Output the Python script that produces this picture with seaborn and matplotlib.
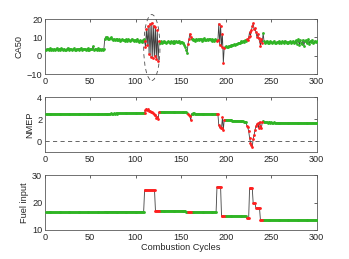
import numpy as np
import matplotlib
matplotlib.use("Agg")
import matplotlib.pyplot as plt
from matplotlib.patches import Ellipse
import seaborn as sns

# CA50 per combustion cycle (cycles 1..300)
ca50 = [
    3.2, 3.8, 3.5, 2.9, 3.6, 4.1, 3.3, 3.7, 3.0, 3.9,
    3.4, 3.6, 4.2, 3.1, 3.5, 3.8, 3.2, 4.0, 3.6, 3.3,
    3.9, 3.4, 3.1, 3.7, 4.3, 3.5, 3.2, 3.8, 3.6, 3.0,
    3.7, 4.0, 3.4, 3.3, 3.9, 3.5, 3.1, 3.8, 3.6, 4.4,
    3.2, 3.7, 3.5, 3.9, 3.3, 3.6, 4.1, 3.4, 3.0, 3.8,
    3.5, 3.7, 5.2, 3.4, 3.6, 3.9, 3.2, 3.5, 4.0, 3.3,
    3.7, 3.4, 3.8, 3.1, 3.6,
    9.2, 10.3, 9.8, 10.1, 9.4, 8.9, 9.6, 10.0, 9.1, 8.7,
    9.3, 8.8, 9.0, 8.5, 9.2, 8.6, 8.9, 8.3, 8.7, 9.1,
    8.4, 8.8, 8.2, 9.0, 8.6, 8.1, 8.9, 8.5, 7.9, 8.7,
    9.3, 8.4, 8.0, 8.8, 7.8, 8.6, 9.4, 8.2, 7.7, 8.5,
    8.0, 7.4, 8.6, 9.0, 7.9,
    5.0, 14.5, 6.0, 16.0, 1.0, 17.5, -0.5, 18.0, -1.0, 16.5,
    0.0, 15.5, -2.0, 14.0, -3.0, 8.0,
    7.2, 7.8, 7.0, 7.6, 8.1, 7.3, 7.7, 6.9, 7.5, 8.0,
    7.4, 7.1, 7.9, 7.6, 7.2, 8.2, 7.0, 7.5, 7.8, 7.3,
    7.7, 8.3, 7.1, 7.6, 7.4, 6.8, 7.2, 6.0, 5.0, 3.0, 1.5,
    6.5, 9.0, 12.0, 10.5, 9.0,
    8.4, 9.1, 8.8, 8.2, 9.3, 8.6, 9.0, 8.5, 9.4, 8.9,
    8.3, 9.2, 8.7, 9.5, 8.8, 8.4, 9.0, 8.6, 9.3, 8.9,
    8.5, 9.1, 8.0, 8.7, 8.3, 9.0, 8.6, 7.8, 8.4,
    17.5, 6.0, 16.5, 5.0, 12.0, -4.0, 4.5,
    4.8, 5.3, 4.6, 5.0, 5.5, 5.2, 5.8, 5.4, 6.0, 5.7,
    6.2, 5.9, 6.5, 6.3, 6.8, 7.2, 6.9,
    7.4, 7.9, 7.3, 8.2, 7.7, 8.5, 8.0, 9.0,
    8.6, 10.0, 13.0, 11.0, 14.0, 16.0, 17.8, 14.5, 15.0, 13.0,
    10.5, 12.0, 9.5, 8.0, 5.5, 9.0, 7.0,
    12.5, 7.8, 6.9, 7.6, 8.2, 7.1, 7.5, 6.8, 7.9, 7.3,
    7.0, 7.7, 8.1, 7.2, 6.9, 7.6, 7.4, 8.0, 7.1, 7.5,
    6.8, 7.8, 7.3, 7.0, 8.3, 7.4, 6.9, 7.7, 7.2, 7.6,
    7.9, 7.1, 7.5, 8.2, 7.0, 7.4, 8.4, 6.6, 7.8, 9.0,
    5.9, 8.5, 7.2, 6.3, 8.8, 5.5, 7.9, 8.6, 6.8, 7.4,
    9.1, 6.5, 8.0, 7.3, 8.7, 7.0, 7.6, 8.1, 7.4, 7.8,
]

# NMEP per combustion cycle
nmep = [
    2.46, 2.45, 2.47, 2.46, 2.44, 2.46, 2.47, 2.45, 2.46, 2.45,
    2.46, 2.44, 2.45, 2.47, 2.46, 2.45, 2.46, 2.44, 2.46, 2.45,
    2.45, 2.46, 2.44, 2.45, 2.47, 2.45, 2.46, 2.45, 2.44, 2.46,
    2.45, 2.47, 2.45, 2.46, 2.44, 2.46, 2.45, 2.47, 2.46, 2.45,
    2.46, 2.45, 2.47, 2.46, 2.45, 2.44, 2.46, 2.45, 2.47, 2.46,
    2.45, 2.46, 2.44, 2.46, 2.47, 2.45, 2.46, 2.45, 2.46, 2.47,
    2.46, 2.45, 2.47, 2.46, 2.45, 2.48, 2.49, 2.48, 2.50, 2.49,
    2.50, 2.49, 2.51, 2.50, 2.49, 2.51, 2.50, 2.52, 2.51, 2.50,
    2.52, 2.51, 2.53, 2.52, 2.51, 2.53, 2.52, 2.54, 2.53, 2.52,
    2.54, 2.53, 2.55, 2.54, 2.53, 2.55, 2.54, 2.56, 2.55, 2.54,
    2.56, 2.55, 2.57, 2.56, 2.55, 2.57, 2.56, 2.57, 2.56, 2.58,
    2.85, 2.95, 2.80, 2.90, 2.70, 2.75, 2.60, 2.65, 2.55, 2.50,
    2.35, 2.40, 2.10, 2.20, 2.05, 2.65,
    2.66, 2.65, 2.67, 2.66, 2.65, 2.66, 2.64, 2.65, 2.66, 2.64,
    2.65, 2.64, 2.65, 2.63, 2.64, 2.65, 2.63, 2.64, 2.62, 2.63,
    2.64, 2.62, 2.63, 2.62, 2.61, 2.62, 2.63, 2.61, 2.62, 2.60, 2.58,
    2.45, 2.35, 2.30, 1.90, 2.50,
    2.52, 2.50, 2.51, 2.49, 2.50, 2.48, 2.49, 2.50, 2.48, 2.47,
    2.49, 2.48, 2.47, 2.48, 2.46, 2.47, 2.48, 2.46, 2.47, 2.45,
    2.46, 2.47, 2.45, 2.46, 2.44, 2.45, 2.46, 2.44, 2.45,
    1.45, 1.25, 1.15, 1.20, 2.15, 1.00, 1.95,
    1.92, 1.91, 1.91, 1.90, 1.89, 1.89, 1.88, 1.88, 1.87, 1.86,
    1.86, 1.85, 1.84, 1.84, 1.83, 1.82, 1.82, 1.81, 1.80, 1.80,
    1.79, 1.78, 1.78, 1.77,
    1.40, 1.25, 0.90, 0.30, -0.15, -0.35, -0.50, 0.20, 0.55, 1.00,
    1.35, 1.55, 1.60, 1.20, 1.75, 1.40, 1.15, 1.70,
    1.85, 1.72, 1.70, 1.69, 1.70, 1.68, 1.69, 1.70, 1.68, 1.69,
    1.67, 1.68, 1.69, 1.67, 1.68, 1.66, 1.67, 1.68, 1.66, 1.67,
    1.68, 1.66, 1.67, 1.65, 1.66, 1.67, 1.65, 1.66, 1.67, 1.65,
    1.66, 1.64, 1.65, 1.66, 1.64, 1.65, 1.66, 1.64, 1.65, 1.63,
    1.65, 1.64, 1.66, 1.64, 1.60, 1.65, 1.64, 1.63, 1.65, 1.64,
    1.63, 1.65, 1.64, 1.63, 1.64, 1.65, 1.63, 1.64, 1.63, 1.64,
]

# fuel input: piecewise constant levels and how many cycles each lasts
fuel_levels = [16.4, 16.7, 24.5, 17.0, 16.5, 25.7, 15.0, 14.2, 25.2, 19.7, 18.0, 13.6]
fuel_cycles = [65, 44, 12, 34, 34, 5, 28, 3, 4, 3, 5, 63]

# cycles flagged as transient (drawn red)
red_ranges = [(110, 126), (158, 161), (190, 198), (223, 240)]

assert len(ca50) == 300 and len(nmep) == 300 and sum(fuel_cycles) == 300

cycles = np.arange(1, 301)
fuel = np.repeat(fuel_levels, fuel_cycles)
is_red = np.zeros(300, dtype=bool)
for a, b in red_ranges:
    is_red[(cycles >= a) & (cycles <= b)] = True

sns.set_style("white")
plt.rcParams['font.family'] = ['Liberation Sans', 'DejaVu Sans']
plt.rcParams['font.size'] = 6.6

GREEN = '#2fb524'
RED = '#ff1f1f'

fig = plt.figure(figsize=(3.49, 2.59), dpi=100)
bottoms = [0.714, 0.413, 0.112]
panels = [
    (ca50, 'CA50', (-10, 20), [-10, 0, 10, 20]),
    (nmep, 'NMEP', (-1, 4), [0, 2, 4]),
    (fuel, 'Fuel input', (10, 30), [10, 20, 30]),
]

for (vals, label, ylim, yticks), b in zip(panels, bottoms):
    ax = fig.add_axes([0.129, b, 0.778, 0.212])
    vals = np.asarray(vals)
    sns.lineplot(x=cycles, y=vals, ax=ax, color='0.25', lw=0.6, zorder=2)
    sns.scatterplot(x=cycles[~is_red], y=vals[~is_red], ax=ax, color=GREEN,
                    s=4, linewidth=0, zorder=3)
    sns.scatterplot(x=cycles[is_red], y=vals[is_red], ax=ax, color=RED,
                    s=4, linewidth=0, zorder=4)
    ax.set_xlim(0, 300)
    ax.set_ylim(*ylim)
    ax.set_yticks(yticks)
    ax.set_xticks(range(0, 301, 50))
    ax.set_ylabel(label, labelpad=2, color='0.15')
    ax.tick_params(direction='in', length=2, width=0.5, top=True, right=True,
                   labelsize=6.6, pad=2, colors='0.15')
    for sp in ax.spines.values():
        sp.set_color('0.35')
        sp.set_linewidth(0.6)
    if label == 'CA50':
        ax.add_patch(Ellipse((118, 4.5), width=18, height=36, fill=False,
                             ls=(0, (5, 4)), ec='0.3', lw=0.6, clip_on=False))
    if label == 'NMEP':
        ax.axhline(0, color='0.3', ls=(0, (5, 4)), lw=0.6, zorder=1)
    if label == 'Fuel input':
        ax.set_xlabel('Combustion Cycles', labelpad=1, color='0.15')

fig.savefig('out.png', dpi=100)
